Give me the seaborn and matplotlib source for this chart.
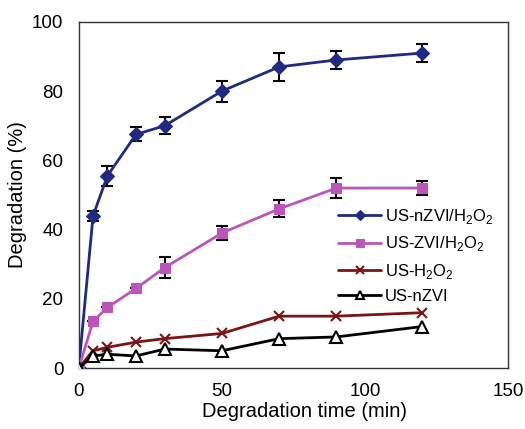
import numpy as np
import pandas as pd
import matplotlib
matplotlib.use("Agg")
import matplotlib.pyplot as plt
import seaborn as sns

# degradation data
time_min = [0, 5, 10, 20, 30, 50, 70, 90, 120]
nzvi_h2o2 = [0, 44, 55.5, 67.5, 70, 80, 87, 89, 91]
nzvi_h2o2_err = [0, 1.5, 3, 2, 2.5, 3, 4, 2.5, 2.5]
zvi_h2o2 = [0, 13.5, 17.5, 23, 29, 39, 46, 52, 52]
zvi_h2o2_err = [0, 0, 0, 0, 3, 2, 2.5, 3, 2]
us_h2o2 = [0, 5, 6, 7.5, 8.5, 10, 15, 15, 16]
us_nzvi = [0, 3.5, 4, 3.5, 5.5, 5, 8.5, 9, 12]

labels = ["US-nZVI/H$_2$O$_2$", "US-ZVI/H$_2$O$_2$", "US-H$_2$O$_2$", "US-nZVI"]
series = [nzvi_h2o2, zvi_h2o2, us_h2o2, us_nzvi]
colors = ["#1F2A80", "#BB55BB", "#7A1515", "#000000"]
markers = ["D", "s", "x", "^"]
msizes = [7, 7, 7, 8]

sns.set_style("white")
plt.rcParams['font.family'] = ['Liberation Sans', 'DejaVu Sans']
plt.rcParams['mathtext.fontset'] = 'custom'
plt.rcParams['mathtext.rm'] = 'Liberation Sans'
plt.rcParams['text.color'] = 'black'
plt.rcParams['axes.labelcolor'] = 'black'
plt.rcParams['xtick.color'] = 'black'
plt.rcParams['ytick.color'] = 'black'

fig = plt.figure(figsize=(5.25, 4.29), dpi=100)
ax = fig.add_axes([0.150, 0.142, 0.818, 0.807])

rows = []
for lab, vals in zip(labels, series):
    for t, v in zip(time_min, vals):
        rows.append({"time": t, "deg": v, "series": lab})
df = pd.DataFrame(rows)

for lab, col, mk, ms in zip(labels, colors, markers, msizes):
    sub = df[df["series"] == lab]
    face = "white" if mk == "^" else col
    sns.lineplot(data=sub, x="time", y="deg", ax=ax, color=col, lw=2,
                 marker=mk, markersize=ms, markerfacecolor=face,
                 markeredgecolor=col, markeredgewidth=1.5 if mk in ("x", "^") else 0.8,
                 label=lab, zorder=3)

# error bars
for vals, err in [(nzvi_h2o2, nzvi_h2o2_err), (zvi_h2o2, zvi_h2o2_err)]:
    t = np.array(time_min)[1:]
    ax.errorbar(t, np.array(vals)[1:], yerr=np.array(err)[1:], fmt="none",
                ecolor="black", elinewidth=1.5, capsize=4, capthick=1.5, zorder=2)

ax.set_xlim(0, 150)
ax.set_ylim(0, 100)
ax.set_xticks([0, 50, 100, 150])
ax.set_yticks([0, 20, 40, 60, 80, 100])
ax.tick_params(direction="in", labelsize=13.5, length=4, pad=11)
ax.set_xlabel("Degradation time (min)", fontsize=14.5, labelpad=1)
ax.xaxis.label.set_x(0.525)
ax.set_ylabel("Degradation (%)", fontsize=14.5, labelpad=4)
for s in ax.spines.values():
    s.set_color("#333333")
    s.set_linewidth(1)

ax.legend(loc="center right", bbox_to_anchor=(1.0, 0.325), frameon=False,
          fontsize=12, handlelength=2.6, handletextpad=0.2, labelspacing=0.5,
          markerscale=0.75)

fig.savefig("out.png", dpi=100)
